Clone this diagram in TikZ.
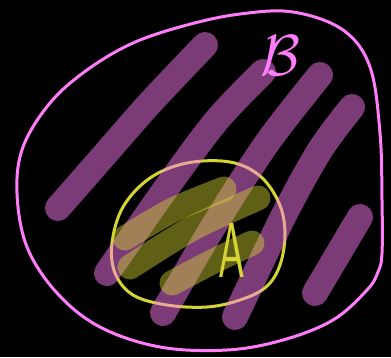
\documentclass[tikz,border=0pt]{standalone}
\usepackage{amsmath}
\definecolor{pinkline}{RGB}{255,125,250}
\definecolor{yelline}{RGB}{212,212,50}
\tikzset{
  outlineB/.style={draw=pinkline, line width=3pt, line join=round},
  outlineA/.style={draw=yelline, line width=3pt, line join=round},
  hatchP/.style={draw=pinkline, draw opacity=0.48, line width=26pt, line cap=round},
  hatchY/.style={draw=yelline, draw opacity=0.45, line width=25pt, line cap=round},
}
\begin{document}
\begin{tikzpicture}[x=1pt,y=-1pt]
\fill[black] (0,0) rectangle (391,357);
\useasboundingbox (0,0) rectangle (391,357);
% set B outline
\draw[outlineB] plot[smooth cycle, tension=0.6] coordinates {
 (293,12) (343,30) (370,67) (380,133) (382,200) (382,253) (378,272) (367,290)
 (333,320) (283,340) (227,350) (160,347) (100,327) (57,293) (27,247) (17,193)
 (23,147) (50,103) (87,70) (133,43) (187,25) (240,14)};
% set A outline
\draw[outlineA] plot[smooth cycle, tension=0.6] coordinates {
 (230,162) (260,176) (279,203) (285,233) (280,265) (266,287) (240,300) (207,307)
 (167,305) (133,295) (115,273) (112,243) (123,207) (150,178) (187,163)};
% purple hatching of B
\draw[hatchP] plot[smooth] coordinates {(58,208) (100,160) (150,103) (205,45)};
\draw[hatchP] plot[smooth] coordinates {(107,273) (167,187) (217,120) (263,72)};
\draw[hatchP] plot[smooth] coordinates {(163,313) (213,227) (267,143) (320,75)};
\draw[hatchP] plot[smooth] coordinates {(235,317) (283,217) (320,150) (352,107)};
\draw[hatchP] plot[smooth] coordinates {(315,293) (360,217)};
% yellow hatching of A
\draw[hatchY] plot[smooth] coordinates {(125,238) (173,210) (224,189)};
\draw[hatchY] plot[smooth] coordinates {(130,267) (193,228) (258,198)};
\draw[hatchY] plot[smooth] coordinates {(172,283) (212,262) (252,243)};
% labels
\node[text=pinkline, inner sep=0pt, scale=5.8] (labB) at (280,56) {$\mathcal{B}$};
\node[text=yelline, inner sep=0pt, xscale=0.55, font=\fontsize{78}{78}\sffamily] (labA) at (232,250) {A};
\end{tikzpicture}
\end{document}
